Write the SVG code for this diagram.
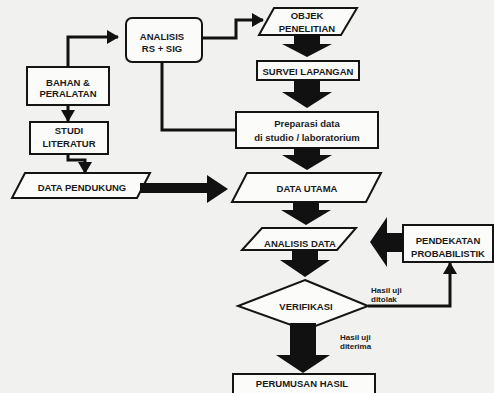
<svg xmlns="http://www.w3.org/2000/svg" width="494" height="393" viewBox="0 0 494 393">
<defs>
<style>
.bg{fill:#f1f1ef}
.box{fill:#fbfbfa;stroke:#141414;stroke-width:2}
.t{font-family:"Liberation Sans",Arial,sans-serif;font-weight:bold;font-size:9.5px;fill:#1a1a1a;text-anchor:middle}
.s{font-family:"Liberation Sans",Arial,sans-serif;font-weight:bold;font-size:8px;fill:#1a1a1a}
.ln{fill:none;stroke:#111;stroke-width:3;stroke-linejoin:miter}
.blk{fill:#111}
</style>
<marker id="ah" markerUnits="userSpaceOnUse" markerWidth="12" markerHeight="14" refX="11" refY="7" orient="auto">
<path d="M0,0 L12,7 L0,14 Z" fill="#111"/>
</marker>
</defs>
<rect class="bg" x="0" y="0" width="494" height="393"/>

<g id="analisis-rs-sig">
<rect class="box" x="126" y="18" width="76" height="44" rx="6"/>
<text class="t" x="162" y="39.5">ANALISIS</text>
<text class="t" x="162" y="51.5">RS + SIG</text>
</g>
<g id="bahan-peralatan">
<rect class="box" x="27" y="67" width="82" height="38"/>
<text class="t" x="68" y="85.5">BAHAN &amp;</text>
<text class="t" x="68" y="96.5">PERALATAN</text>
</g>
<g id="studi-literatur">
<rect class="box" x="30" y="122" width="78" height="32"/>
<text class="t" x="69" y="133.5">STUDI</text>
<text class="t" x="69" y="146.5">LITERATUR</text>
</g>
<g id="data-pendukung">
<polygon class="box" points="25,173 150,173 137,198 12,198"/>
<text class="t" x="82" y="190.5">DATA PENDUKUNG</text>
</g>
<g id="objek-penelitian">
<polygon class="box" points="274,8 357,8 341,35 259,35"/>
<text class="t" x="307" y="18.5">OBJEK</text>
<text class="t" x="307" y="31.5">PENELITIAN</text>
</g>
<g id="survei-lapangan">
<rect class="box" x="257" y="61" width="102" height="19"/>
<text class="t" x="308" y="74.5">SURVEI LAPANGAN</text>
</g>
<g id="preparasi-data">
<rect class="box" x="236" y="112" width="142" height="36"/>
<text class="t" x="307" y="126.5">Preparasi data</text>
<text class="t" x="307" y="140.5">di studio / laboratorium</text>
</g>
<g id="data-utama">
<polygon class="box" points="247,173 381,173 366,202 232,202"/>
<text class="t" x="307" y="191.5">DATA UTAMA</text>
</g>
<g id="analisis-data">
<polygon class="box" points="262,228 356,228 337,250 242,250"/>
<text class="t" x="300" y="246.5">ANALISIS DATA</text>
</g>
<g id="pendekatan-probabilistik">
<rect class="box" x="403" y="225" width="90" height="37"/>
<text class="t" x="448" y="243.5">PENDEKATAN</text>
<text class="t" x="448" y="256.5">PROBABILISTIK</text>
</g>
<g id="verifikasi">
<polygon class="box" points="305,280 368,306 305,330 238,306"/>
<text class="t" x="306" y="309.5">VERIFIKASI</text>
</g>
<g id="perumusan-hasil">
<rect class="box" x="233" y="374" width="142" height="30"/>
<text class="t" x="302" y="386.5">PERUMUSAN HASIL</text>
</g>

<g id="connectors">
<polyline class="ln" points="68,67 68,37 118,37" marker-end="url(#ah)"/>
<polyline class="ln" points="68,105 68,121" marker-end="url(#ah)"/>
<polyline class="ln" points="68,154 68,160 85,160 85,173" marker-end="url(#ah)"/>
<polyline class="ln" points="202,38 236,38 236,20 263,20" marker-end="url(#ah)"/>
<polyline class="ln" points="162,62 162,130 236,130"/>
<polyline class="ln" points="368,306 450,306 450,263" marker-end="url(#ah)"/>
<polygon class="blk" points="294,34 320,34 320,44 332,44 307,57 282,44 294,44"/>
<polygon class="blk" points="294,80 320,80 320,92 332,92 307,108 282,92 294,92"/>
<polygon class="blk" points="294,148 320,148 320,155 332,155 307,170 282,155 294,155"/>
<polygon class="blk" points="293,202 319,202 319,210 331,210 306,225 281,210 293,210"/>
<polygon class="blk" points="292,250 318,250 318,260 330,260 305,277 280,260 292,260"/>
<polygon class="blk" points="290,323 316,323 316,355 330,355 303,373 276,355 290,355"/>
<polygon class="blk" points="140,183 207,183 207,175 228,189 207,203 207,193 140,193"/>
<polygon class="blk" points="403,233 387,233 387,217 370,242 387,267 387,252 403,252"/>
</g>
<g id="labels">
<text class="s" x="371" y="293">Hasil uji</text>
<text class="s" x="371" y="302">ditolak</text>
<text class="s" x="340" y="340">Hasil uji</text>
<text class="s" x="340" y="348.5">diterima</text>
</g>
</svg>
